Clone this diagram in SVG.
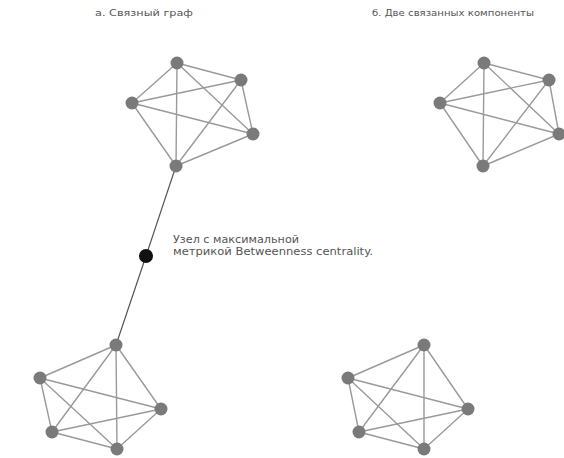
<svg xmlns="http://www.w3.org/2000/svg" width="564" height="458" viewBox="0 0 564 458">
  <style>
    .edge { stroke: #9a9a9a; stroke-width: 1.4; fill: none; }
    .bridge { stroke: #555; stroke-width: 1.2; fill: none; }
    .node { fill: #7a7a7a; }
    .hub { fill: #111; }
    .title { font-family: "DejaVu Sans", "Liberation Sans", sans-serif; font-size: 8.5px; fill: #555; }
    .note { font-family: "DejaVu Sans", "Liberation Sans", sans-serif; font-size: 10px; fill: #555; }
  </style>
  <rect width="564" height="458" fill="#fff"/>

  <text class="title" x="95" y="16" textLength="98" lengthAdjust="spacingAndGlyphs">а. Связный граф</text>
  <text class="title" x="372" y="16" textLength="162" lengthAdjust="spacingAndGlyphs">б. Две связанных компоненты</text>

  <g id="connectors">
    <!-- cluster A (top left) -->
    <path class="edge" d="M177,63L241,80M177,63L132,103M177,63L253,134M177,63L176,166M241,80L132,103M241,80L253,134M241,80L176,166M132,103L253,134M132,103L176,166M253,134L176,166"/>
    <!-- cluster B (bottom left) -->
    <path class="edge" d="M116,345L40,378M116,345L161,409M116,345L52,432M116,345L117,449M40,378L161,409M40,378L52,432M40,378L117,449M161,409L52,432M161,409L117,449M52,432L117,449"/>
    <!-- cluster C (top right) -->
    <path class="edge" d="M484,63L549,80M484,63L440,103M484,63L559,134M484,63L483,166M549,80L440,103M549,80L559,134M549,80L483,166M440,103L559,134M440,103L483,166M559,134L483,166"/>
    <!-- cluster D (bottom right) -->
    <path class="edge" d="M424,345L348,378M424,345L468,409M424,345L359,432M424,345L424,449M348,378L468,409M348,378L359,432M348,378L424,449M468,409L359,432M468,409L424,449M359,432L424,449"/>
    <!-- bridge through the hub node -->
    <path class="bridge" d="M176,166L146,256L116,345"/>
  </g>

  <g id="a-nodes">
    <circle class="node" cx="177" cy="63" r="6.5"/>
    <circle class="node" cx="241" cy="80" r="6.5"/>
    <circle class="node" cx="132" cy="103" r="6.5"/>
    <circle class="node" cx="253" cy="134" r="6.5"/>
    <circle class="node" cx="176" cy="166" r="6.5"/>
  </g>
  <g id="b-nodes">
    <circle class="node" cx="116" cy="345" r="6.5"/>
    <circle class="node" cx="40" cy="378" r="6.5"/>
    <circle class="node" cx="161" cy="409" r="6.5"/>
    <circle class="node" cx="52" cy="432" r="6.5"/>
    <circle class="node" cx="117" cy="449" r="6.5"/>
  </g>
  <g id="c-nodes">
    <circle class="node" cx="484" cy="63" r="6.5"/>
    <circle class="node" cx="549" cy="80" r="6.5"/>
    <circle class="node" cx="440" cy="103" r="6.5"/>
    <circle class="node" cx="559" cy="134" r="6.5"/>
    <circle class="node" cx="483" cy="166" r="6.5"/>
  </g>
  <g id="d-nodes">
    <circle class="node" cx="424" cy="345" r="6.5"/>
    <circle class="node" cx="348" cy="378" r="6.5"/>
    <circle class="node" cx="468" cy="409" r="6.5"/>
    <circle class="node" cx="359" cy="432" r="6.5"/>
    <circle class="node" cx="424" cy="449" r="6.5"/>
  </g>

  <g id="hub">
    <circle class="hub" cx="146" cy="256" r="7"/>
    <text class="note" x="173" y="243" textLength="126" lengthAdjust="spacingAndGlyphs">Узел с максимальной</text>
    <text class="note" x="173" y="255" textLength="200" lengthAdjust="spacingAndGlyphs">метрикой Betweenness centrality.</text>
  </g>
</svg>
